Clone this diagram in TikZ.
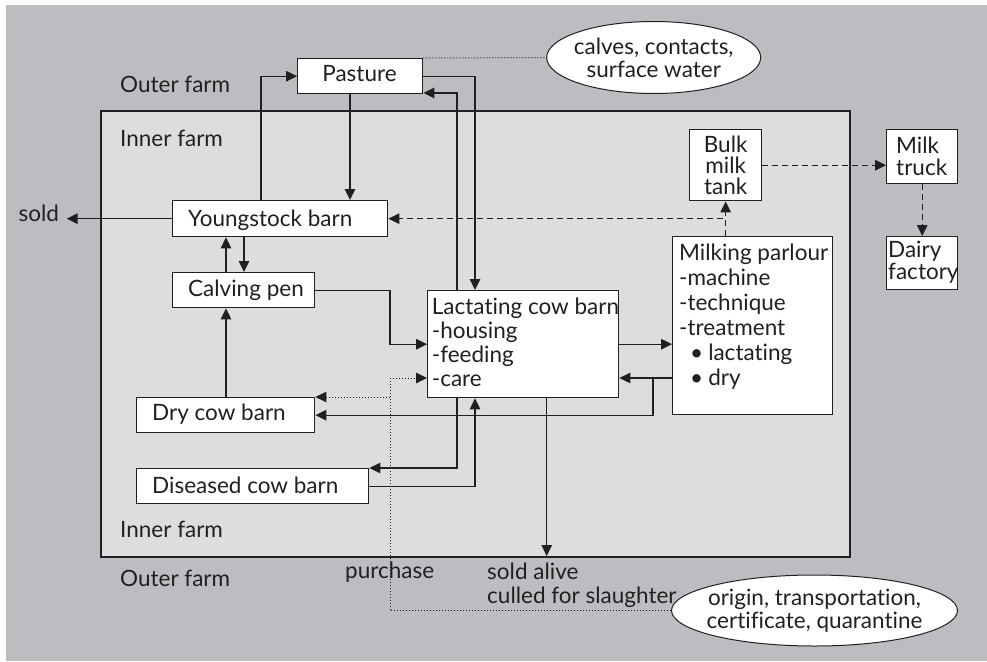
\documentclass[tikz,border=0pt]{standalone}
\usepackage{fontspec}
\setmainfont{Lato}[Ligatures={NoCommon,NoDiscretionary,NoRare}]
\usetikzlibrary{arrows.meta,shapes.geometric}
\definecolor{ink}{HTML}{231F20}
\definecolor{outerbg}{HTML}{BCBDC1}
\definecolor{innerbg}{HTML}{DCDDDF}
\begin{document}
\begin{tikzpicture}[x=1pt,y=-1pt,
  every node/.style={inner sep=0pt, text=ink, font=\fontsize{22.5}{24}\selectfont},
  box/.style={draw=ink, fill=white, line width=1.4pt, anchor=north west},
  lbl/.style={anchor=base west},
  tip/.style={-{Triangle[length=11pt,width=10.5pt]}},
  arr/.style={draw=ink, line width=1.4pt, tip},
  darr/.style={draw=ink, line width=1.4pt, dash pattern=on 6pt off 4pt, tip},
  dline/.style={draw=ink, line width=1pt, dash pattern=on 1pt off 2pt},
  dotarr/.style={dline, tip},
  bubble/.style={draw=ink, fill=white, ellipse, line width=1pt, align=center,
    inner xsep=-10pt, inner ysep=-4pt, font=\fontsize{22.5}{23}\selectfont}]

% canvas and farm areas
\useasboundingbox (0,0) rectangle (987,661);
\fill[outerbg] (6,5) rectangle (987,661);
\draw[ink, line width=1.4pt, fill=innerbg] (101,111) rectangle (850,557);

% boxes
\node[box, minimum width=125pt, minimum height=35pt] (pasture) at (297,58) {};
\node[box, minimum width=215pt, minimum height=36pt] (young) at (172,200) {};
\node[box, minimum width=142pt, minimum height=35pt] (calving) at (172,272) {};
\node[box, minimum width=191pt, minimum height=107pt] (lact) at (427,290) {};
\node[box, minimum width=160pt, minimum height=178pt] (milk) at (672,236) {};
\node[box, minimum width=72pt, minimum height=71pt] (bulk) at (689,129) {};
\node[box, minimum width=71pt, minimum height=54pt] (truck) at (886,129) {};
\node[box, minimum width=71pt, minimum height=53pt] (dairy) at (886,236) {};
\node[box, minimum width=178pt, minimum height=35pt] (dry) at (136,397) {};
\node[box, minimum width=232pt, minimum height=35pt] (diseased) at (136,468) {};

% remarks in ellipses
\node[bubble, minimum width=214pt, minimum height=72pt] (calves) at (653.7,57.5)
  {calves, contacts,\\surface water};
\node[bubble, minimum width=286pt, minimum height=71pt] (origin) at (814.5,610.5)
  {origin, transportation,\\certificate, quarantine};

% free labels
\node[lbl] (outertop) at (120,92.7) {Outer farm};
\node[lbl] (innertop) at (120,146.7) {Inner farm};
\node[lbl] (innerbot) at (120,537) {Inner farm};
\node[lbl] (outerbot) at (120,586.7) {Outer farm};
\node[anchor=base east, inner xsep=7.5pt] (sold) at (66.7,221.7) {sold};
\node[anchor=north west, align=left, font=\fontsize{22.5}{24.7}\selectfont] (soldalive)
  at (487,562.5) {sold alive\\culled for slaughter};
\coordinate (soldtip) at (546.7,556);

% animal flows
\draw[arr] ([xshift=89pt]young.north west) |- (pasture.west);
\draw[arr] (350,0 |- pasture.south) -- (350,0 |- young.north);
\draw[arr] (pasture.east) -| (475,0 |- lact.north);
\draw[arr] (457,0 |- lact.north) |- ([yshift=1.5pt]pasture.south east);
\draw[arr] (young.west) -- (young.west -| sold.east);
\draw[arr] (226,0 |- calving.north) -- (226,0 |- young.south);
\draw[arr] (244,0 |- young.south) -- (244,0 |- calving.north);
\draw[arr] (calving.east) -| (390,0 |- lact.west) -- (lact.west);
\draw[arr] (226,0 |- dry.north) -- (226,0 |- calving.south);
\draw[arr] (lact.east) -- (lact.east -| milk.west);
\draw[arr] (milk.west |- 0,378) -- (lact.east |- 0,378);
\draw[arr] (milk.west |- 0,378) -- (653,378) |- (dry.east);
\draw[arr] (457,0 |- lact.south) |- (diseased.north east);
\draw[arr] (diseased.east) -| (475,0 |- lact.south);
\draw[arr] (546.7,0 |- lact.south) -- (soldtip);

% milk flows
\draw[darr] (bulk.south |- milk.north) -- (bulk.south);
\draw[darr] (bulk.south |- milk.north) -- (bulk.south |- young.east) -- (young.east);
\draw[darr] (bulk.east) -- (bulk.east -| truck.west);
\draw[darr] (truck.south) -- (dairy.north);

% risk pathways
\draw[dline] (pasture.north east) -- (calves.west);
\draw[dotarr] (origin.west) -| (390,378) -- (lact.west |- 0,378);
\draw[dotarr] (origin.west) -| (390,0 |- dry.north east) -- (dry.north east);

% box texts
\node[anchor=base] (pasturet) at (359.5,81.7) {Pasture};
\node[lbl] (youngt) at (188,226.5) {Youngstock barn};
\node[lbl] (calvingt) at (188,296.7) {Calving pen};
\node[lbl] (dryt) at (152,420.7) {Dry cow barn};
\node[lbl] (diseasedt) at (152,493.3) {Diseased cow barn};
\node[anchor=north west, align=left] (lactt) at (431.7,298)
  {Lactating cow barn\\-housing\\-feeding\\-care};
\node[anchor=north west, align=left, font=\fontsize{22.5}{25}\selectfont] (milkt) at (679,244)
  {Milking parlour\\-machine\\-technique\\-treatment\\
   \hspace*{11pt}\textbullet\hspace{5pt}lactating\\
   \hspace*{11pt}\textbullet\hspace{5pt}dry};
\node[align=center, font=\fontsize{22.5}{21}\selectfont] (bulkt) at (bulk.center) {Bulk\\milk\\tank};
\node[anchor=west, align=left, font=\fontsize{22.5}{22}\selectfont] (truckt) at (896,156) {Milk\\truck};
\node[anchor=west, align=left, font=\fontsize{22.5}{22}\selectfont] (dairyt) at (888,262.5) {Dairy\\factory};
\node[lbl] (purchase) at (345,578) {purchase};
\end{tikzpicture}
\end{document}
